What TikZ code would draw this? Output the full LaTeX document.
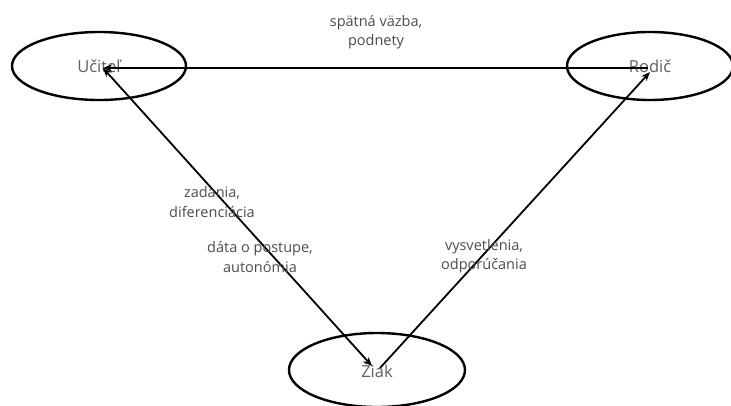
\documentclass[tikz,border=0pt]{standalone}
\usepackage{fontspec}
\setmainfont{Open Sans}
\usetikzlibrary{arrows.meta,shapes.geometric}
\begin{document}
\begin{tikzpicture}[x=1pt,y=-1pt,
  ell/.style={ellipse, draw=black, line width=2.4pt, fill=white, inner sep=0pt,
    text=black!62, font=\fontsize{16.5}{18}\selectfont},
  conn/.style={line width=1.8pt, black},
  tip/.style={-{Stealth[length=9pt,width=7pt]}},
  lbl/.style={text=black!70, font=\fontsize{14.5}{19.5}\selectfont, align=center, inner sep=0pt}]
\useasboundingbox (0,0) rectangle (731,405);
\node[ell, minimum width=174pt, minimum height=68pt] (U) at (99,66) {Učiteľ};
\node[ell, minimum width=166pt, minimum height=68pt] (R) at (650,66) {Rodič};
\node[ell, minimum width=176pt, minimum height=74pt] (Z) at (377,370) {Žiak};
\coordinate (u1) at (103,68);
\coordinate (r1) at (648,68);
\coordinate (r2) at (650,72);
\coordinate (z1) at (372,366);
\coordinate (z2) at (380,368);
\draw[conn, tip] (r1) -- (u1);
\draw[conn, {Stealth[length=9pt,width=7pt]}-{Stealth[length=9pt,width=7pt]}] (u1) -- (z1);
\draw[conn, tip] (z2) -- (r2);
\node[lbl] (l1) at (376,32) {spätná väzba,\\podnety};
\node[lbl] (l2) at (212,202) {zadania,\\diferenciácia};
\node[lbl] (l3) at (260,257) {dáta o postupe,\\autonómia};
\node[lbl] (l4) at (484,256) {vysvetlenia,\\odporúčania};
\end{tikzpicture}
\end{document}
